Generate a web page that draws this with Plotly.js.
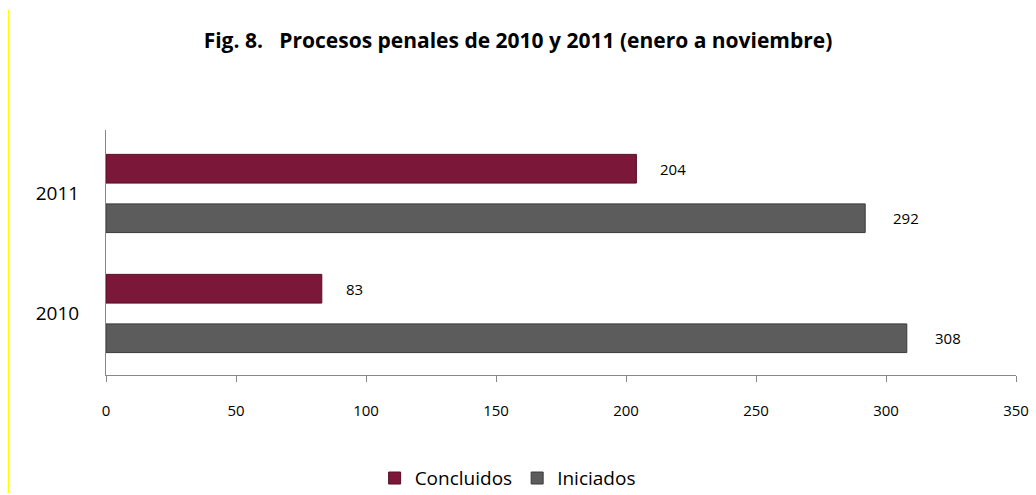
<!DOCTYPE html>
<html>
<head>
<meta charset="utf-8">
<script src="https://cdn.plot.ly/plotly-3.0.1.min.js"></script>
<style>
html,body{margin:0;padding:0;background:#fff;}
#wrap{position:relative;width:1036px;height:495px;}
#chart{width:1036px;height:495px;}
#yline{position:absolute;left:8px;top:10px;width:1px;height:483px;background:#ffff00;}
</style>
</head>
<body>
<div id="wrap"><div id="chart"></div><div id="yline"></div></div>
<script>
const years = ['2010', '2011'];
const iniciados = [308, 292];
const concluidos = [83, 204];
const seriesNames = ['Concluidos', 'Iniciados'];
const xTicks = [0, 50, 100, 150, 200, 250, 300, 350];

const colConc = '#7b1738';
const colIni = '#5c5c5c';
const pos = years.map((_, i) => i);
const FONT = 'Open Sans, Liberation Sans, sans-serif';

const traces = [
  {type:'bar', orientation:'h', name:seriesNames[1], y:pos, x:iniciados,
   marker:{color:colIni, line:{color:'#3a3a3a', width:1}}, legendrank:2, hoverinfo:'x'},
  {type:'bar', orientation:'h', name:seriesNames[0], y:pos, x:concluidos,
   marker:{color:colConc, line:{color:'#560e27', width:1}}, legendrank:1, hoverinfo:'x'}
];

const annotations = [];
pos.forEach((p, i) => {
  annotations.push({x:iniciados[i], y:p, xref:'x', yref:'y', text:String(iniciados[i]),
    showarrow:false, xanchor:'left', xshift:26, yshift:-25, font:{family:FONT, size:15, color:'#000'}});
  annotations.push({x:concluidos[i], y:p, xref:'x', yref:'y', text:String(concluidos[i]),
    showarrow:false, xanchor:'left', xshift:22, yshift:24, font:{family:FONT, size:15, color:'#000'}});
});

const layout = {
  width:1036, height:495,
  margin:{l:106, r:20, t:130, b:120, autoexpand:false},
  paper_bgcolor:'#fff', plot_bgcolor:'#fff',
  font:{family:FONT, color:'#000'},
  title:{text:'<b>Fig. 8.   Procesos penales de 2010 y 2011 (enero a noviembre)</b>',
    x:0.5, xref:'container', xanchor:'center', y:0.918, yref:'container', yanchor:'middle',
    font:{family:FONT, size:21, color:'#000'}},
  barmode:'group', bargap:0.175, bargroupgap:0.42,
  xaxis:{range:[0,350], tickvals:xTicks, ticktext:xTicks.map(String), showgrid:false, zeroline:false,
    showline:true, linecolor:'#888', linewidth:1, ticks:'outside', ticklen:6, tickcolor:'#888',
    ticklabelstandoff:16, tickfont:{size:15, color:'#000'}, fixedrange:true},
  yaxis:{range:[-0.5125, 1.529], tickvals:pos, ticktext:years, showgrid:false, zeroline:false,
    showline:true, linecolor:'#888', linewidth:1, ticks:'', ticklabelstandoff:22,
    tickfont:{size:19, color:'#000'}, fixedrange:true},
  legend:{orientation:'h', x:0.49, xref:'container', xanchor:'center', y:0.034, yref:'container', yanchor:'middle',
    font:{size:19, color:'#000'}, traceorder:'normal'},
  annotations:annotations,
  showlegend:true
};

Plotly.newPlot('chart', traces, layout, {displayModeBar:false, staticPlot:true});
</script>
</body>
</html>
